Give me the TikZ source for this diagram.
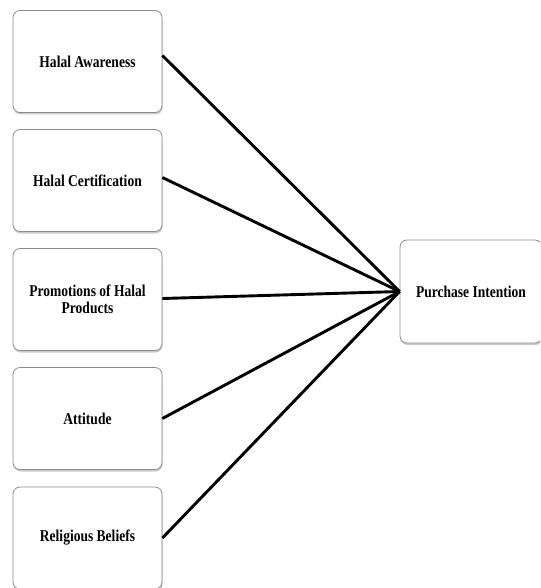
\documentclass[tikz,border=0pt]{standalone}
\usepackage{fontspec}
\setmainfont{Liberation Serif}[FakeStretch=0.82]
\usetikzlibrary{shadows}
\begin{document}
\begin{tikzpicture}[x=1pt,y=-1pt,
  cbox/.style={draw=black!45, line width=0.8pt, rounded corners=7pt, fill=white,
    drop shadow={shadow xshift=0.5pt, shadow yshift=-2pt, fill=black!35, opacity=0.6},
    minimum width=149pt, minimum height=102pt, align=center,
    font=\bfseries\fontsize{16.5}{17.5}\selectfont, inner sep=2pt},
  link/.style={line width=2.9pt, black}]
\useasboundingbox (0,0) rectangle (540,588);
\begin{scope}
\clip (0,0) rectangle (540,588);
\node[cbox] (a) at (87.5,61.5) {Halal Awareness};
\node[cbox] (b) at (87.5,180.5) {Halal Certification};
\node[cbox] (c) at (87.5,299.5) {Promotions of Halal\\Products};
\node[cbox] (d) at (87.5,418.5) {Attitude};
\node[cbox] (e) at (87.5,538) {Religious Beliefs};
\node[cbox, minimum width=142pt, minimum height=103pt] (p) at (471,291.5) {Purchase Intention};
\coordinate (t) at (p.west);
\draw[link] ([yshift=6pt]a.east) -- (t);
\draw[link] ([yshift=3pt]b.east) -- (t);
\draw[link] ([yshift=1pt]c.east) -- (t);
\draw[link] (d.east) -- (t);
\draw[link] (e.east) -- (t);
\end{scope}
\end{tikzpicture}
\end{document}
